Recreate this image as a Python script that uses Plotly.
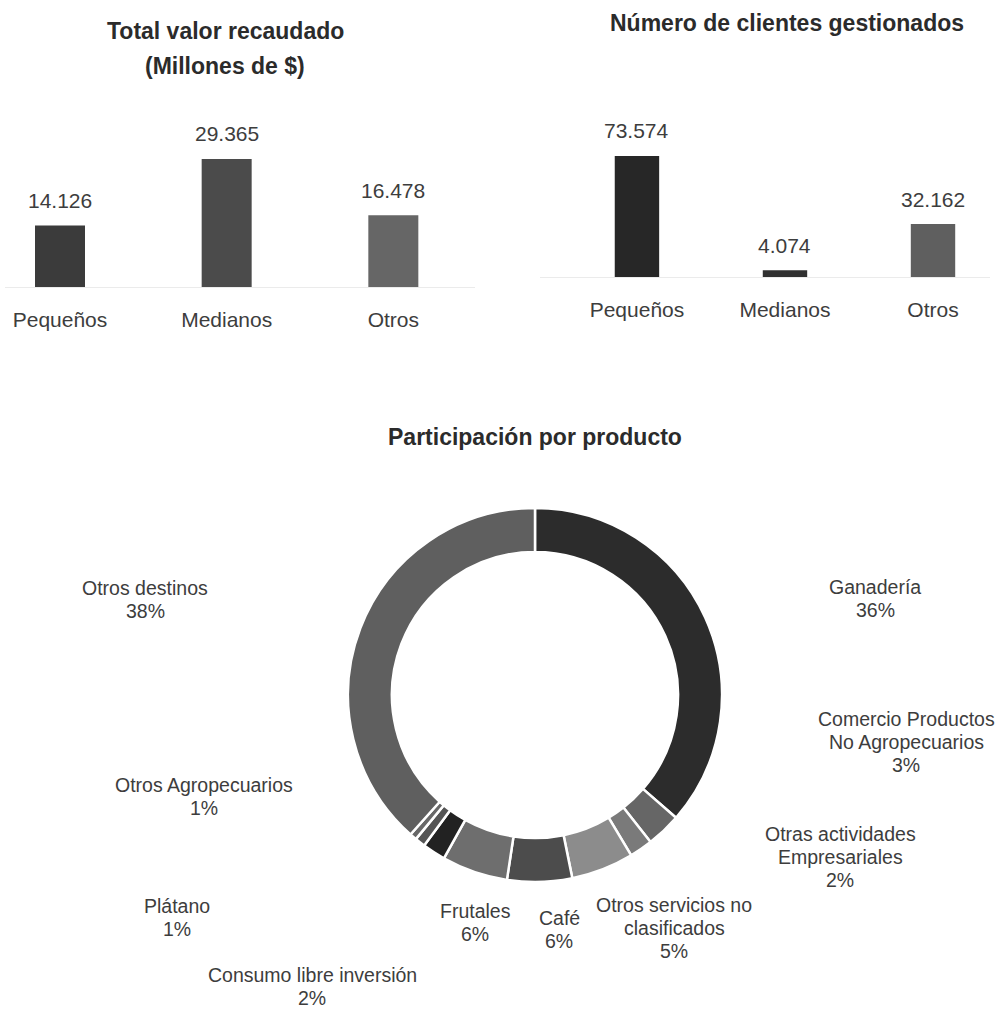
import plotly.graph_objects as go

W, H = 998, 1015

# ---- data -------------------------------------------------------------
segmentos = ["Pequeños", "Medianos", "Otros"]
recaudo_millones = [14126, 29365, 16478]
clientes = [73574, 4074, 32162]

productos = [
    "Ganadería",
    "Comercio Productos No Agropecuarios",
    "Otras actividades Empresariales",
    "Otros servicios no clasificados",
    "Café",
    "Frutales",
    "Consumo libre inversión",
    "Plátano",
    "Otros Agropecuarios",
    "Otros destinos",
]
participacion = [36.4, 3.0, 2.0, 5.4, 5.6, 5.7, 2.0, 0.9, 0.6, 38.4]

# ---- styling ------------------------------------------------------------
FONT = "Liberation Sans, Arial, sans-serif"
TITLE_COLOR = "#2b2b2b"
TEXT_COLOR = "#3d3d3d"

colores_recaudo = ["#3b3b3b", "#4b4b4b", "#666666"]
colores_clientes = ["#272727", "#303030", "#5f5f5f"]
colores_productos = ["#2c2c2c", "#666666", "#7a7a7a", "#8c8c8c", "#4c4c4c",
                     "#6e6e6e", "#222222", "#555555", "#686868", "#5f5f5f"]

# line breaks used for the ring labels
saltos = {
    "Comercio Productos No Agropecuarios": ["Comercio Productos", "No Agropecuarios"],
    "Otras actividades Empresariales": ["Otras actividades", "Empresariales"],
    "Otros servicios no clasificados": ["Otros servicios no", "clasificados"],
}
# centre of each ring label block, in pixels from the top-left corner
pos_etiquetas = {
    "Ganadería": (875, 598),
    "Comercio Productos No Agropecuarios": (906, 742),
    "Otras actividades Empresariales": (840, 857),
    "Otros servicios no clasificados": (674, 928),
    "Café": (559, 929),
    "Frutales": (475, 922),
    "Consumo libre inversión": (312, 986),
    "Plátano": (177, 917),
    "Otros Agropecuarios": (204, 796),
    "Otros destinos": (145, 599),
}


def px_x(x):
    return x / W


def px_y(y):
    return (H - y) / H


def miles(v):
    return f"{v:,}".replace(",", ".")


fig = go.Figure()

# ---- bar charts -------------------------------------------------------
fig.add_trace(go.Bar(
    x=segmentos, y=recaudo_millones, xaxis="x", yaxis="y",
    marker=dict(color=colores_recaudo, line=dict(width=0)),
    width=0.30, hoverinfo="x+y", showlegend=False,
))
fig.add_trace(go.Bar(
    x=segmentos, y=clientes, xaxis="x2", yaxis="y2",
    marker=dict(color=colores_clientes, line=dict(width=0)),
    width=0.30, hoverinfo="x+y", showlegend=False,
))

annotations = []
for xs, ys, xr, yr in [(segmentos, recaudo_millones, "x", "y"),
                       (segmentos, clientes, "x2", "y2")]:
    for c, v in zip(xs, ys):
        annotations.append(dict(
            x=c, y=v, xref=xr, yref=yr, text=miles(v), showarrow=False,
            yanchor="middle", yshift=25,
            font=dict(family=FONT, size=21, color=TEXT_COLOR),
        ))

# ---- donut --------------------------------------------------------------
cx, cy, r = 535, 695, 187
fig.add_trace(go.Pie(
    labels=productos, values=participacion,
    sort=False, direction="clockwise", rotation=0, hole=0.765,
    marker=dict(colors=colores_productos, line=dict(color="white", width=2.5)),
    textinfo="none", showlegend=False,
    domain=dict(x=[px_x(cx - r), px_x(cx + r)], y=[px_y(cy + r), px_y(cy - r)]),
))

total = sum(participacion)
for nombre, v in zip(productos, participacion):
    lineas = saltos.get(nombre, [nombre]) + [f"{round(v / total * 100)}%"]
    x0, y0 = pos_etiquetas[nombre]
    n = len(lineas)
    for i, t in enumerate(lineas):
        annotations.append(dict(
            x=px_x(x0), y=px_y(y0 + (i - (n - 1) / 2) * 23),
            xref="paper", yref="paper", text=t, showarrow=False,
            xanchor="center", yanchor="middle",
            font=dict(family=FONT, size=19.5, color=TEXT_COLOR),
        ))

# ---- titles -------------------------------------------------------------
titulos = [
    ("Total valor recaudado", 225, 31),
    ("(Millones de $)", 225, 66),
    ("Número de clientes gestionados", 787, 23),
    ("Participación por producto", 535, 437),
]
for t, x0, y0 in titulos:
    annotations.append(dict(
        x=px_x(x0), y=px_y(y0), xref="paper", yref="paper",
        text=f"<b>{t}</b>", showarrow=False, xanchor="center", yanchor="middle",
        font=dict(family=FONT, size=23, color=TITLE_COLOR),
    ))

eje_x = dict(
    showgrid=False, zeroline=False, showline=True, linecolor="#ebebeb",
    linewidth=1, ticks="", ticklabelstandoff=14,
    tickfont=dict(family=FONT, size=21, color=TEXT_COLOR),
    fixedrange=True,
)
eje_y = dict(visible=False, showgrid=False, zeroline=False, fixedrange=True)

fig.update_layout(
    width=W, height=H,
    margin=dict(l=0, r=0, t=0, b=0),
    paper_bgcolor="white", plot_bgcolor="white",
    separators=",.",
    bargap=0.5,
    xaxis=dict(eje_x, domain=[px_x(5), px_x(475)], range=[-0.33, 2.49], anchor="y"),
    yaxis=dict(eje_y, domain=[px_y(287), px_y(100)], range=[0, 187 / 0.00436], anchor="x"),
    xaxis2=dict(eje_x, domain=[px_x(540), px_x(990)], range=[-0.655, 2.385], anchor="y2"),
    yaxis2=dict(eje_y, domain=[px_y(277), px_y(100)], range=[0, 177 / 0.001645], anchor="x2"),
    annotations=annotations,
    font=dict(family=FONT, color=TEXT_COLOR),
)

fig.write_html("out.html")
